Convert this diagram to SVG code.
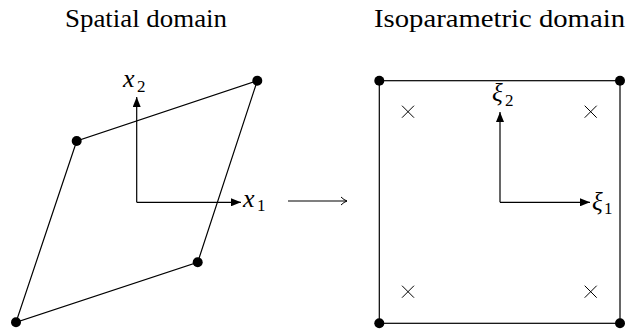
<svg xmlns="http://www.w3.org/2000/svg" width="627" height="333" viewBox="0 0 627 333">
<style>
.e{stroke:#000;stroke-width:1.2;fill:none}
.d{fill:#000}
.x{stroke:#000;stroke-width:1;fill:none}
text{fill:#000}
</style>
<defs>
<marker id="ah" viewBox="0 0 10 8" refX="10" refY="4" markerWidth="10" markerHeight="8" markerUnits="userSpaceOnUse" orient="auto">
<path d="M0,0 L10,4 L0,8 Z" fill="#000"/>
</marker>
<marker id="oh" viewBox="0 0 8 10" refX="7" refY="5" markerWidth="8" markerHeight="10" markerUnits="userSpaceOnUse" orient="auto">
<path d="M1,1 Q4,4 7,5 Q4,6 1,9" fill="none" stroke="#000" stroke-width="1"/>
</marker>
</defs>
<g font-family="Liberation Serif, Times New Roman, DejaVu Serif, serif">
<text x="65" y="27" font-size="25" textLength="162" lengthAdjust="spacingAndGlyphs">Spatial domain</text>
<text x="374" y="27" font-size="25" textLength="251" lengthAdjust="spacingAndGlyphs">Isoparametric domain</text>
<g id="spatial">
<polygon class="e" points="257.3,80.7 76.7,141 16,322.3 197.7,262.3"/>
<circle class="d" cx="257.3" cy="80.7" r="5"/>
<circle class="d" cx="76.7" cy="141" r="5"/>
<circle class="d" cx="16" cy="322.3" r="5"/>
<circle class="d" cx="197.7" cy="262.3" r="5"/>
</g>
<g id="spatial-axes">
<line class="e" x1="136.7" y1="202.3" x2="136.7" y2="97" marker-end="url(#ah)"/>
<line class="e" x1="136.7" y1="202.3" x2="241" y2="202.3" marker-end="url(#ah)"/>
<text x="123" y="87" font-size="26" font-style="italic">x</text>
<text x="137" y="92" font-size="17">2</text>
<text x="243" y="207" font-size="26" font-style="italic">x</text>
<text x="257" y="211" font-size="17">1</text>
</g>
<g id="iso">
<rect class="e" x="379.3" y="80.7" width="240.7" height="242.6"/>
<circle class="d" cx="379.3" cy="80.7" r="5"/>
<circle class="d" cx="620" cy="80.7" r="5"/>
<circle class="d" cx="379.3" cy="323.3" r="5"/>
<circle class="d" cx="620" cy="323.3" r="5"/>
<path class="x" d="M402,105.7 l12,12 M414,105.7 l-12,12 M584.7,105.7 l12,12 M596.7,105.7 l-12,12 M402,285.7 l12,12 M414,285.7 l-12,12 M584.7,285.7 l12,12 M596.7,285.7 l-12,12"/>
</g>
<g id="iso-axes">
<line class="e" x1="500" y1="202.3" x2="500" y2="112" marker-end="url(#ah)"/>
<line class="e" x1="500" y1="202.3" x2="590" y2="202.3" marker-end="url(#ah)"/>
<text x="492" y="101" font-size="25" font-style="italic">ξ</text>
<text x="505" y="106" font-size="17">2</text>
<text x="592" y="210" font-size="25" font-style="italic">ξ</text>
<text x="604" y="214" font-size="17">1</text>
</g>
</g>
<g id="connectors">
<line class="e" x1="288" y1="201" x2="347" y2="201" stroke-width="1" marker-end="url(#oh)"/>
</g>
</svg>
